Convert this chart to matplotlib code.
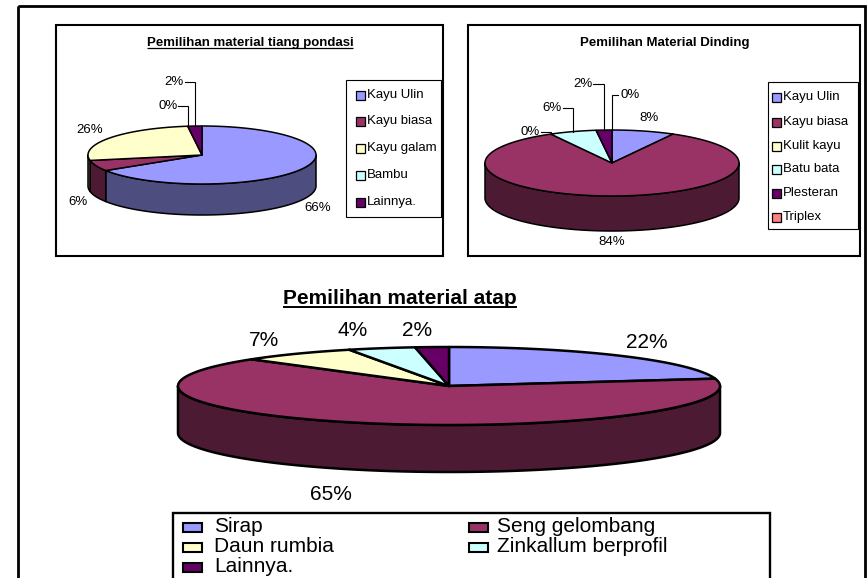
import numpy as np
import matplotlib
matplotlib.use("Agg")
import matplotlib.pyplot as plt
from matplotlib.patches import Polygon, Rectangle
from matplotlib.colors import to_rgb

plt.rcParams['font.family'] = ['Liberation Sans', 'DejaVu Sans']

# Pemilihan material tiang pondasi
pondasi_labels = ['Kayu Ulin', 'Kayu biasa', 'Kayu galam', 'Bambu', 'Lainnya.']
pondasi_values = [66, 6, 26, 0, 2]

# Pemilihan Material Dinding
dinding_labels = ['Kayu Ulin', 'Kayu biasa', 'Kulit kayu', 'Batu bata', 'Plesteran', 'Triplex']
dinding_values = [8, 84, 0, 6, 2, 0]

# Pemilihan material atap
atap_labels = ['Sirap', 'Seng gelombang', 'Daun rumbia', 'Zinkallum berprofil', 'Lainnya.']
atap_values = [22, 65, 7, 4, 2]

BLUE, MAROON, CREAM, AQUA, PLUM, SALMON = '#9999FF', '#993366', '#FFFFCC', '#CCFFFF', '#660066', '#FF8080'
pondasi_colors = [BLUE, MAROON, CREAM, AQUA, PLUM]
dinding_colors = [BLUE, MAROON, CREAM, AQUA, PLUM, SALMON]
atap_colors = [BLUE, MAROON, CREAM, AQUA, PLUM]


def shade(c, k=0.5):
    r, g, b = to_rgb(c)
    return (r * k, g * k, b * k)


fig = plt.figure(figsize=(8.67, 5.78), dpi=100)
ax = fig.add_axes([0, 0, 1, 1])
ax.set_xlim(0, 867)
ax.set_ylim(578, 0)
ax.axis('off')


def pie3d(values, colors, cx, cy, a, b, depth, lw):
    """Tilted pie with a visible rim, slices clockwise from 12 o'clock."""
    fr = np.asarray(values, float)
    fr = fr / fr.sum()
    bounds = np.concatenate([[0.0], np.cumsum(fr)]) * 2 * np.pi

    def rim(t):
        return cx + a * np.sin(t), cy - b * np.cos(t)

    # front rim walls
    for t0, t1, c in zip(bounds[:-1], bounds[1:], colors):
        s0, s1 = max(t0, np.pi / 2), min(t1, 1.5 * np.pi)
        if s1 - s0 <= 1e-9:
            continue
        t = np.linspace(s0, s1, 200)
        x, y = rim(t)
        pts = np.column_stack([np.concatenate([x, x[::-1]]),
                               np.concatenate([y, y[::-1] + depth])])
        ax.add_patch(Polygon(pts, closed=True, fc=shade(c), ec='black',
                             lw=lw, joinstyle='round'))
    # top faces
    for t0, t1, c in zip(bounds[:-1], bounds[1:], colors):
        if t1 - t0 <= 1e-9:
            continue
        t = np.linspace(t0, t1, 300)
        x, y = rim(t)
        pts = np.vstack([[cx, cy], np.column_stack([x, y])])
        ax.add_patch(Polygon(pts, closed=True, fc=c, ec='black',
                             lw=lw, joinstyle='round'))
    mids = (bounds[:-1] + bounds[1:]) / 2
    return [rim(m) for m in mids]


def pct_labels(values, anchors, positions, size, leaders=()):
    for v, (lx, ly) in zip(values, positions):
        ax.text(lx, ly, f"{v}%", fontsize=size, ha='center', va='center')
    for i, side, gap in leaders:
        lx, ly = positions[i]
        rx, ry = anchors[i]
        x0 = lx + side * gap
        ax.plot([x0, rx, rx], [ly, ly, ry], color='black', lw=0.8,
                solid_joinstyle='miter')


def title(x, y, s, size, underline=False, ul_off=2.0, ul_lw=1.0):
    t = ax.text(x, y, s, fontsize=size, fontweight='bold', ha='center',
                va='baseline')
    if underline:
        fig.canvas.draw()
        bb = t.get_window_extent()
        inv = ax.transData.inverted()
        (x0, _), (x1, _) = inv.transform([[bb.x0, bb.y0], [bb.x1, bb.y1]])
        ax.plot([x0, x1], [y + ul_off, y + ul_off], color='black', lw=ul_lw,
                solid_capstyle='butt')


def side_legend(labels, colors, box, rows, mark_x, text_x, size):
    x0, y0, x1, y1 = box
    ax.add_patch(Rectangle((x0, y0), x1 - x0, y1 - y0, fc='white',
                           ec='black', lw=0.8))
    for lab, c, ry in zip(labels, colors, rows):
        ax.add_patch(Rectangle((mark_x, ry - 4.5), 9, 9, fc=c, ec='black',
                               lw=0.9))
        ax.text(text_x, ry, lab, fontsize=size, ha='left', va='center')


# ---- frames ----
ax.add_patch(Rectangle((18, 6), 847, 640, fc='none', ec='black', lw=2.0))
ax.add_patch(Rectangle((56, 25), 387, 231, fc='none', ec='black', lw=1.5))
ax.add_patch(Rectangle((468, 25), 392, 231, fc='none', ec='black', lw=1.5))

# ---- tiang pondasi ----
title(250, 46, 'Pemilihan material tiang pondasi', 9.5, underline=True,
      ul_off=2.0, ul_lw=0.9)
anch = pie3d(pondasi_values, pondasi_colors, 202, 155, 114, 29, 31, 1.1)
pct_labels(pondasi_values, anch,
           [(318, 208), (78, 202), (90, 130), (168, 106), (174, 82)], 9.5,
           leaders=[(3, 1, 10), (4, 1, 11)])
side_legend(pondasi_labels, pondasi_colors, (346, 80, 441, 217),
            [95, 121, 148, 175, 202], 356, 367, 9.5)

# ---- dinding ----
title(665, 46, 'Pemilihan Material Dinding', 9.5)
anch = pie3d(dinding_values, dinding_colors, 612, 163, 127, 33, 35, 1.1)
pct_labels(dinding_values, anch,
           [(649, 118), (612, 242), (530, 132), (552, 108), (583, 84), (630, 95)],
           9.5, leaders=[(2, 1, 11), (3, 1, 11), (4, 1, 10), (5, -1, 12)])
side_legend(dinding_labels, dinding_colors, (768, 82, 858, 229),
            [97, 122, 146, 169, 193, 217], 772, 783, 9.5)

# ---- atap ----
title(400, 304, 'Pemilihan material atap', 15, underline=True,
      ul_off=2.5, ul_lw=1.4)
anch = pie3d(atap_values, atap_colors, 449, 386, 271, 39, 47, 1.8)
pct_labels(atap_values, anch,
           [(647, 342), (331, 494), (264, 340), (353, 331), (417, 330)], 15)

# bottom legend, two columns
ax.add_patch(Rectangle((173, 513), 597, 120, fc='white', ec='black', lw=1.7))
cols = [(183, 214), (469, 497)]
rows = [527, 547, 567]
for k, (lab, c) in enumerate(zip(atap_labels, atap_colors)):
    mx, tx = cols[k % 2]
    ry = rows[k // 2]
    ax.add_patch(Rectangle((mx, ry - 4.5), 19, 9, fc=c, ec='black', lw=1.5))
    ax.text(tx, ry, lab, fontsize=15, ha='left', va='center')

fig.savefig('out.png', dpi=100)
